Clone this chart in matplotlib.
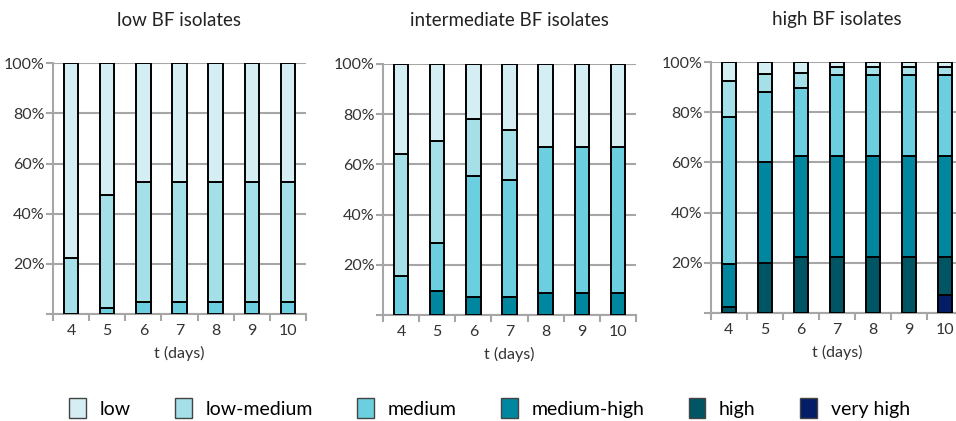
import numpy as np
import matplotlib
matplotlib.use("Agg")
import matplotlib.pyplot as plt
from matplotlib.patches import Patch

plt.rcParams['font.family'] = ['Lato', 'DejaVu Sans']

days = [4, 5, 6, 7, 8, 9, 10]
levels = ['low', 'low-medium', 'medium', 'medium-high', 'high', 'very high']
colors = {'low': '#d4eef3', 'low-medium': '#a5dfe8', 'medium': '#6ccfdf',
          'medium-high': '#00869e', 'high': '#005565', 'very high': '#031d66'}

# percentage of isolates per level (stacked bottom-up from very high to low)
low_bf = {
    'very high':   [0, 0, 0, 0, 0, 0, 0],
    'high':        [0, 0, 0, 0, 0, 0, 0],
    'medium-high': [0, 0, 0, 0, 0, 0, 0],
    'medium':      [0, 2.4, 4.8, 4.8, 4.8, 4.8, 4.8],
    'low-medium':  [22.3, 44.9, 47.9, 47.9, 47.9, 47.9, 47.9],
    'low':         [77.7, 52.7, 47.3, 47.3, 47.3, 47.3, 47.3],
}
mid_bf = {
    'very high':   [0, 0, 0, 0, 0, 0, 0],
    'high':        [0, 0, 0, 0, 0, 0, 0],
    'medium-high': [0, 9.6, 7.3, 7.3, 8.9, 8.9, 8.9],
    'medium':      [15.6, 18.9, 48.0, 46.6, 58.1, 58.1, 58.1],
    'low-medium':  [48.6, 40.9, 22.8, 19.6, 0, 0, 0],
    'low':         [35.8, 30.6, 21.9, 26.5, 33.0, 33.0, 33.0],
}
high_bf = {
    'very high':   [0, 0, 0, 0, 0, 0, 7.3],
    'high':        [2.3, 19.9, 22.3, 22.3, 22.3, 22.3, 15.0],
    'medium-high': [17.2, 40.2, 40.2, 40.2, 40.2, 40.2, 40.2],
    'medium':      [58.8, 28.0, 27.3, 32.2, 32.2, 32.2, 32.2],
    'low-medium':  [14.2, 7.0, 5.7, 3.3, 3.3, 3.3, 3.3],
    'low':         [7.5, 4.9, 4.5, 2.0, 2.0, 2.0, 2.0],
}
panels = [('low BF isolates', low_bf), ('intermediate BF isolates', mid_bf),
          ('high BF isolates', high_bf)]

fig = plt.figure(figsize=(9.56, 4.21), dpi=100)
rects = [[0.0554, 0.254, 0.2647, 0.596],
         [0.4006, 0.252, 0.2647, 0.596],
         [0.7437, 0.2565, 0.2636, 0.596]]

grid_c = '#a6a6a6'
x = np.arange(len(days))
for rect, (title, data) in zip(rects, panels):
    ax = fig.add_axes(rect)
    bottom = np.zeros(len(days))
    for lev in levels[::-1]:
        h = np.array(data[lev], dtype=float)
        mask = h > 0
        ax.bar(x[mask], h[mask], 0.4, bottom=bottom[mask], color=colors[lev],
               edgecolor='black', linewidth=1.4, zorder=3)
        bottom += h
    ax.set_xlim(-0.5, len(days) - 0.5)
    ax.set_ylim(0, 100)
    ax.set_yticks([0, 20, 40, 60, 80, 100])
    ax.set_yticklabels(['', '20%', '40%', '60%', '80%', '100%'], fontsize=11.5,
                       color='#333333')
    ax.yaxis.grid(True, color=grid_c, linewidth=1.5, zorder=0)
    ax.set_xticks(x)
    ax.set_xticklabels([str(d) for d in days], fontsize=11.5, color='#333333')
    ax.set_xticks(np.arange(len(days) + 1) - 0.5, minor=True)
    ax.tick_params(axis='x', which='major', length=0, pad=7)
    ax.tick_params(axis='x', which='minor', length=5, width=1.5, color=grid_c)
    ax.tick_params(axis='y', length=5, width=1.5, color=grid_c, pad=1)
    for s in ['top', 'right']:
        ax.spines[s].set_visible(False)
    for s in ['left', 'bottom']:
        ax.spines[s].set_color(grid_c)
        ax.spines[s].set_linewidth(1.5)
    ax.set_xlabel('t (days)', fontsize=11.5, color='#333333', labelpad=6)
    ax.set_title(title, fontsize=13.5, color='#222222', pad=27)

handles = [Patch(facecolor=colors[l], edgecolor='#444444', linewidth=1) for l in levels]
fig.legend(handles, levels, loc='center', bbox_to_anchor=(0.512, 0.03), ncol=6,
           frameon=False, fontsize=14, handlelength=0.85, handleheight=1.2,
           columnspacing=2.3, handletextpad=0.7)

fig.savefig('out.png', dpi=100)
